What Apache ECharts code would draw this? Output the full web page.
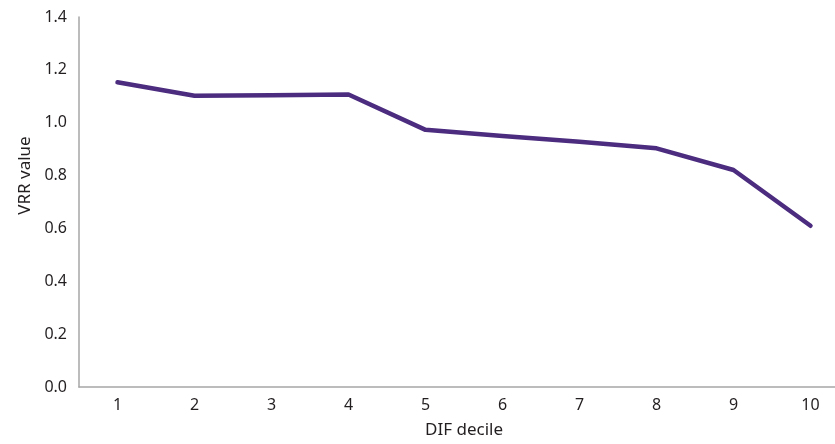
<!DOCTYPE html>
<html>
<head>
<meta charset="utf-8">
<script src="https://cdn.jsdelivr.net/npm/echarts@6/dist/echarts.min.js"></script>
<style>
html,body{margin:0;padding:0;background:#fff;overflow:hidden;}
#chart{width:849px;height:444px;}
</style>
</head>
<body>
<div id="chart"></div>
<script>
const categories = ['1','2','3','4','5','6','7','8','9','10'];
const vrrValues = [1.153, 1.102, 1.104, 1.107, 0.973, 0.950, 0.928, 0.903, 0.821, 0.610];
const yMin = 0, yMax = 1.4, yStep = 0.2;

const chart = echarts.init(document.getElementById('chart'));
const font = '"Noto Sans", "Open Sans", sans-serif';
chart.setOption({
  animation: false,
  grid: {left: 79, right: 0, top: 17, height: 375, containLabel: false},
  xAxis: {
    type: 'category',
    data: categories,
    boundaryGap: true,
    name: 'DIF decile',
    nameLocation: 'middle',
    nameGap: 35,
    nameTextStyle: {color: '#231f20', fontSize: 17, fontFamily: font},
    axisLine: {show: true, lineStyle: {color: '#a6a6a6', width: 1.5}},
    axisTick: {show: false},
    axisLabel: {color: '#231f20', fontSize: 16, fontFamily: font, margin: 10},
    splitLine: {show: false}
  },
  yAxis: {
    type: 'value',
    min: yMin, max: yMax, interval: yStep,
    name: 'VRR value',
    nameLocation: 'middle',
    nameGap: 45,
    nameTextStyle: {color: '#231f20', fontSize: 17, fontFamily: font, padding: [0, 0, 0, 53]},
    axisLine: {show: true, lineStyle: {color: '#a6a6a6', width: 1.5}},
    axisTick: {show: false},
    axisLabel: {color: '#231f20', fontSize: 16, fontFamily: font, margin: 12,
      formatter: v => v.toFixed(1)},
    splitLine: {show: false}
  },
  series: [{
    type: 'line',
    data: vrrValues,
    symbol: 'none',
    lineStyle: {color: '#4b2c7f', width: 4.5, cap: 'round', join: 'round'}
  }]
});
</script>
</body>
</html>
